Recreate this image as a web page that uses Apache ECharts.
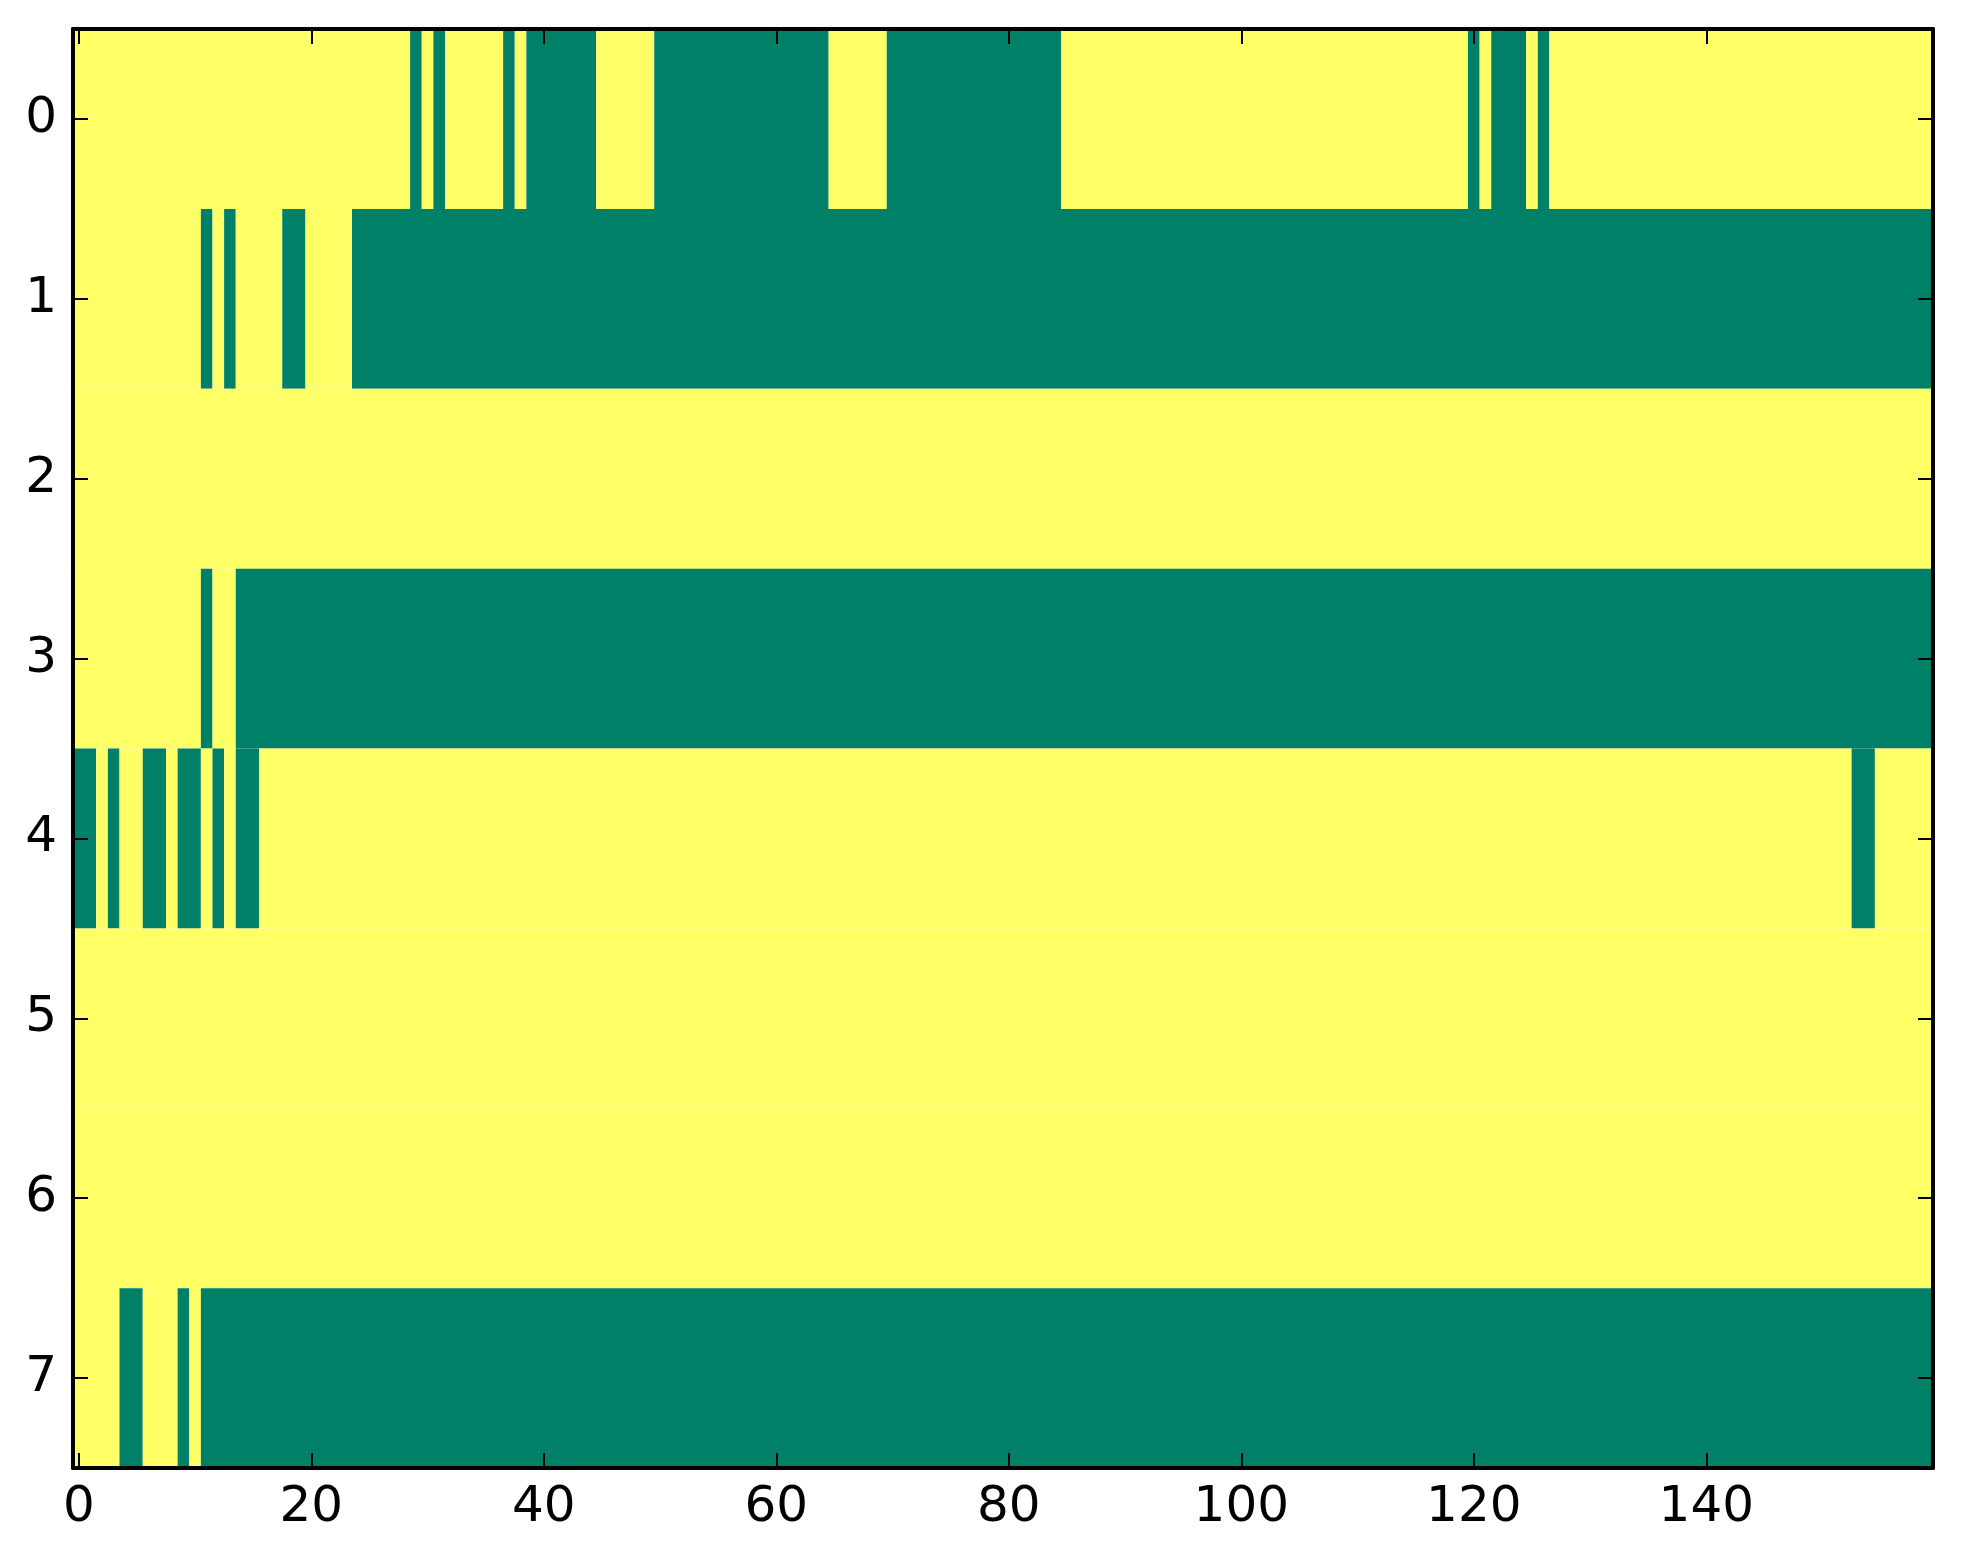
<!DOCTYPE html>
<html>
<head>
<meta charset="utf-8">
<script src="https://cdn.jsdelivr.net/npm/echarts@6/dist/echarts.min.js"></script>
<style>
html,body{margin:0;padding:0;background:#fff;}
#chart{width:1963px;height:1564px;}
</style>
</head>
<body>
<div id="chart"></div>
<script>
// ---- Data (binary image, 8 rows x 160 columns; listed runs are the 0-valued / green cells) ----
const nCols = 160;
const rowLabels = [0, 1, 2, 3, 4, 5, 6, 7];
const xTickValues = [0, 20, 40, 60, 80, 100, 120, 140];
const row0Zero = [[29,29],[31,31],[37,37],[39,44],[50,64],[70,84],[120,120],[122,124],[126,126]];
const row1Zero = [[11,11],[13,13],[18,19],[24,159]];
const row2Zero = [];
const row3Zero = [[11,11],[14,159]];
const row4Zero = [[0,1],[3,3],[6,7],[9,10],[12,12],[14,15],[153,154]];
const row5Zero = [];
const row6Zero = [];
const row7Zero = [[4,5],[9,9],[11,159]];
const zeroRuns = [row0Zero, row1Zero, row2Zero, row3Zero, row4Zero, row5Zero, row6Zero, row7Zero];

// colormap "summer": 0 -> green, 1 -> yellow
const colorLow = '#008066';
const colorHigh = '#ffff66';

// build grid values then merge equal runs
const grid = zeroRuns.map(runs => {
  const row = new Array(nCols).fill(1);
  runs.forEach(([a, b]) => { for (let c = a; c <= b; c++) row[c] = 0; });
  return row;
});
const cells = [];
grid.forEach((row, r) => {
  let start = 0;
  for (let c = 1; c <= nCols; c++) {
    if (c === nCols || row[c] !== row[start]) {
      cells.push([start, c - 1, r, row[start]]);
      start = c;
    }
  }
});

const chart = echarts.init(document.getElementById('chart'), null, {renderer: 'canvas'});
const font = 'DejaVu Sans';
const axisLine = {show: true, onZero: false, lineStyle: {color: '#000', width: 4}};
const tickStyle = {color: '#000', width: 2};

chart.setOption({
  backgroundColor: '#fff',
  animation: false,
  grid: {left: 73, right: 30, top: 29, bottom: 96, containLabel: false},
  xAxis: [
    {type: 'value', min: -0.5, max: nCols - 0.5, position: 'bottom', z: 10,
     axisLine: axisLine,
     axisTick: {show: true, inside: true, length: 15, customValues: xTickValues, lineStyle: tickStyle},
     axisLabel: {show: true, customValues: xTickValues, fontSize: 50, fontFamily: font, color: '#000', margin: 15},
     splitLine: {show: false}},
    {type: 'value', min: -0.5, max: nCols - 0.5, position: 'top', z: 10,
     axisLine: axisLine,
     axisTick: {show: true, inside: true, length: 15, customValues: xTickValues, lineStyle: tickStyle},
     axisLabel: {show: false},
     splitLine: {show: false}}
  ],
  yAxis: [
    {type: 'value', min: -0.5, max: rowLabels.length - 0.5, inverse: true, position: 'left', z: 10,
     axisLine: axisLine,
     axisTick: {show: true, inside: true, length: 15, customValues: rowLabels, lineStyle: tickStyle},
     axisLabel: {show: true, customValues: rowLabels, fontSize: 50, fontFamily: font, color: '#000', margin: 16},
     splitLine: {show: false}},
    {type: 'value', min: -0.5, max: rowLabels.length - 0.5, inverse: true, position: 'right', z: 10,
     axisLine: axisLine,
     axisTick: {show: true, inside: true, length: 15, customValues: rowLabels, lineStyle: tickStyle},
     axisLabel: {show: false},
     splitLine: {show: false}}
  ],
  series: [{
    type: 'custom',
    xAxisIndex: 0,
    yAxisIndex: 0,
    z: 1,
    encode: {x: [0, 1], y: 2},
    data: cells,
    renderItem: function (params, api) {
      const p0 = api.coord([api.value(0) - 0.5, api.value(2) - 0.5]);
      const p1 = api.coord([api.value(1) + 0.5, api.value(2) + 0.5]);
      return {
        type: 'rect',
        shape: {
          x: Math.min(p0[0], p1[0]),
          y: Math.min(p0[1], p1[1]),
          width: Math.abs(p1[0] - p0[0]),
          height: Math.abs(p1[1] - p0[1])
        },
        style: {fill: api.value(3) === 0 ? colorLow : colorHigh, stroke: null}
      };
    }
  }]
});
</script>
</body>
</html>
